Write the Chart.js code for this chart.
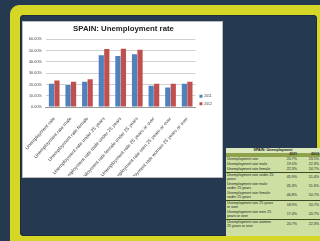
<!DOCTYPE html>
<html>
<head>
<meta charset="utf-8">
<script src="https://cdn.jsdelivr.net/npm/chart.js@4"></script>
<style>
  html, body { margin: 0; padding: 0; }
  body { width: 320px; height: 241px; background: #253a50; position: relative; overflow: hidden; font-family: "Liberation Sans", Arial, sans-serif; }
  .frame { position: absolute; left: 10px; top: 5px; width: 320px; height: 250px; background: #d5d626; border-radius: 9px; }
  .inner { position: absolute; left: 20px; top: 15px; width: 297px; height: 221px; background: #253a50; border-radius: 4px; box-shadow: inset 0 0 0 1px #1c2d3e; }
  .chartbox { position: absolute; left: 23px; top: 22px; width: 199px; height: 155px; background: #fff; box-shadow: 0 0 0 1px #b9b9b9; overflow: hidden; }
  .tbl { position: absolute; left: 226px; top: 148px; width: 94px; height: 88px; background: #cddfa3; overflow: hidden; }
  .tbl table { border-collapse: collapse; width: 100%; table-layout: fixed; font-size: 3.6px; line-height: 4px; color: #222; }
  .tbl td { padding: 0.5px 1px; vertical-align: middle; }
  .tbl td.n { text-align: right; }
  .tbl tr.head td { text-align: center; font-weight: bold; background: #dce9bd; line-height: 3.6px; }
  .tbl tr.yr td { background: #8fa24d; font-weight: bold; line-height: 3px; }
  .tbl tr.sep td { border-bottom: 0.8px solid #3c4a22; }
</style>
</head>
<body>
<div class="frame"></div>
<div class="inner"></div>
<div class="chartbox"><canvas id="c"></canvas></div>
<div class="tbl" id="tbl"></div>
<script>
const categories = [
  "Unemployment rate",
  "Unemployment rate male",
  "Unemployment rate female",
  "Unemployment rate under 25 years",
  "Unemployment rate male under 25 years",
  "Unemployment rate female under 25 years",
  "Unemployment rate 25 years or over",
  "Unemployment rate men 25 years or over",
  "Unemployment rate women 25 years or over"
];
const seriesNames = ["2011", "2012"];
const values2011 = [20.7, 19.5, 22.3, 45.9, 45.3, 46.8, 18.9, 17.4, 20.7];
const values2012 = [23.5, 22.3, 24.7, 51.4, 51.6, 50.7, 20.7, 20.7, 22.3];
const yTicks = [0, 10, 20, 30, 40, 50, 60];

// tabla pequeña a la derecha
let html = '<table><colgroup><col style="width:50px"><col><col></colgroup>';
html += '<tr class="head"><td colspan="3">SPAIN: Unemployment</td></tr>';
html += `<tr class="yr"><td></td><td class="n">${seriesNames[0]}</td><td class="n">${seriesNames[1]}</td></tr>`;
categories.forEach((cat, i) => {
  const sep = (i === 2 || i === 5 || i === 7) ? ' class="sep"' : '';
  html += `<tr${sep}><td>${cat}</td><td class="n">${values2011[i].toFixed(1)}%</td><td class="n">${values2012[i].toFixed(1)}%</td></tr>`;
});
html += '</table>';
document.getElementById('tbl').innerHTML = html;

const ctx = document.getElementById('c').getContext('2d');
new Chart(ctx, {
  type: 'bar',
  data: {
    labels: categories,
    datasets: [
      { label: seriesNames[0], data: values2011, backgroundColor: '#4f81bd', barPercentage: 0.95, categoryPercentage: 0.66 },
      { label: seriesNames[1], data: values2012, backgroundColor: '#c0504d', barPercentage: 0.95, categoryPercentage: 0.66 }
    ]
  },
  options: {
    responsive: true,
    maintainAspectRatio: false,
    animation: false,
    layout: { padding: { top: 2, right: 0, left: 2, bottom: 1 } },
    plugins: {
      title: { display: true, text: 'SPAIN: Unemployment rate', color: '#222', font: { size: 7.8, weight: 'bold', family: 'Liberation Sans' }, padding: { top: 0, bottom: 6 } },
      legend: {
        position: 'right', align: 'center',
        labels: { boxWidth: 3, boxHeight: 3, padding: 4, color: '#444', font: { size: 3.5 } }
      },
      tooltip: { enabled: false }
    },
    scales: {
      x: {
        grid: { display: false },
        border: { color: '#999' },
        afterFit: axis => { axis.height = 69; },
        ticks: { minRotation: 48, maxRotation: 48, autoSkip: false, color: '#444', font: { size: 4.8 }, padding: 1 }
      },
      y: {
        min: 0, max: 60,
        afterBuildTicks: axis => { axis.ticks = yTicks.map(v => ({ value: v })); },
        grid: { color: '#d0d0d0', drawTicks: false },
        border: { display: false },
        ticks: { color: '#444', font: { size: 3.8 }, padding: 4, callback: v => v.toFixed(2) + '%' }
      }
    }
  }
});
</script>
</body>
</html>
